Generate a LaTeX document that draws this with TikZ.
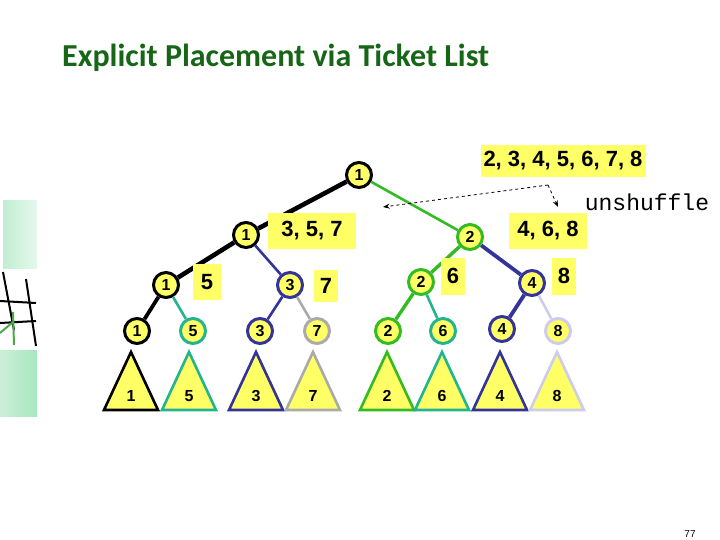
\documentclass[tikz,border=0pt]{standalone}
\usepackage{fontspec}
\setmainfont{Liberation Sans}
\setmonofont{Liberation Mono}
\newfontfamily\titlefont{Carlito}
\usetikzlibrary{arrows.meta}
\definecolor{tktyellow}{HTML}{FFFF66}
\definecolor{tktgreen}{HTML}{33BB22}
\definecolor{tktnavy}{HTML}{333399}
\definecolor{tktteal}{HTML}{22B48E}
\definecolor{tktgray}{HTML}{AAAAAA}
\definecolor{tktlav}{HTML}{CCCCEE}
\definecolor{titlegreen}{HTML}{176617}
\definecolor{sidegreen}{HTML}{A8E6BE}
\tikzset{
  tkt/.style={circle, draw, fill=tktyellow, line width=3pt, minimum size=25pt,
    inner sep=0pt, font=\bfseries\fontsize{16}{16}\selectfont},
  lst/.style={fill=tktyellow, minimum height=35pt, inner xsep=6pt,
    font=\bfseries\fontsize{22}{22}\selectfont},
  lnk/.style={line width=2.6pt},
  fat/.style={line width=4.6pt},
  tri/.style={fill=tktyellow, line width=2.6pt, line join=miter},
}
\begin{document}
\begin{tikzpicture}[x=1pt, y=-1pt, >=Stealth]
  \useasboundingbox (0,0) rectangle (720,540);
  % title and page number
  \node[anchor=base west, inner sep=0pt, text=titlegreen,
        font=\titlefont\bfseries\fontsize{32}{32}\selectfont]
       (title) at (62,67) {Explicit Placement via Ticket List};
  \node[font=\fontsize{10}{10}\selectfont] (page) at (690,534) {77};
  % side decoration
  \shade[left color=sidegreen!70, right color=sidegreen!30] (3,201) rectangle (37,268);
  \shade[left color=sidegreen!60, right color=sidegreen] (0,350) rectangle (37,416);
  \draw[line width=2pt] (0,301) -- (36,303);
  \draw[line width=2pt] (0,323) -- (36,321);
  \draw[line width=2pt] (3,272) -- (14,330);
  \draw[line width=2pt] (26,279) -- (36,346);
  \draw[line width=2pt, green!50!black!70] (13,312) -- (14,345);
  \draw[line width=2pt, green!50!black!70] (13,322) -- (0,333);

  % the tree of tickets
  \node[tkt] (r) at (359,175) {1};
  \node[tkt] (a) at (246,235) {1};
  \node[tkt, draw=tktgreen] (b) at (470,237) {2};
  \node[tkt] (c1) at (166,285) {1};
  \node[tkt, draw=tktnavy] (c3) at (290,285) {3};
  \node[tkt, draw=tktgreen] (c2) at (421,282) {2};
  \node[tkt, draw=tktnavy] (c4) at (532,283) {4};
  \node[tkt] (l1) at (137,331) {1};
  \node[tkt, draw=tktteal] (l5) at (193,331) {5};
  \node[tkt, draw=tktnavy] (l3) at (260,331) {3};
  \node[tkt, draw=tktgray] (l7) at (317,331) {7};
  \node[tkt, draw=tktgreen] (l2) at (388,331) {2};
  \node[tkt, draw=tktteal] (l6) at (443,331) {6};
  \node[tkt, draw=tktnavy] (l4) at (502,329) {4};
  \node[tkt, draw=tktlav] (l8) at (558,331) {8};

  \draw[fat] (r) -- (a);
  \draw[lnk, tktgreen] (r) -- (b);
  \draw[fat] (a) -- (c1);
  \draw[lnk, tktnavy] (a) -- (c3);
  \draw[lnk, line width=3.4pt, tktgreen] (b) -- (c2);
  \draw[fat, line width=3.8pt, tktnavy] (b) -- (c4);
  \draw[fat, line width=3.8pt] (c1) -- (l1);
  \draw[lnk, tktteal] (c1) -- (l5);
  \draw[lnk, tktnavy] (c3) -- (l3);
  \draw[lnk, tktgray] (c3) -- (l7);
  \draw[lnk, line width=3.4pt, tktgreen] (c2) -- (l2);
  \draw[lnk, tktteal] (c2) -- (l6);
  \draw[fat, line width=3.8pt, tktnavy] (c4) -- (l4);
  \draw[lnk, tktlav] (c4) -- (l8);

  % subtrees
  \foreach \x/\c/\t in {131/black/1, 189/tktteal/5, 256/tktnavy/3, 313/tktgray/7,
                        387/tktgreen/2, 442/tktteal/6, 500/tktnavy/4, 557/tktlav/8} {
    \draw[tri, draw=\c] (\x,352) -- (\x+27,410) -- (\x-27,410) -- cycle;
    \node[font=\bfseries\fontsize{16}{16}\selectfont] (t\t) at (\x,396) {\t};
  }

  % ticket lists
  \node[lst, minimum height=32pt, inner xsep=3pt] (all) at (563,161) {2, 3, 4, 5, 6, 7, 8};
  \node[lst, inner xsep=13pt] (odd) at (312,231) {3, 5, 7};
  \node[lst, inner xsep=8pt] (even) at (548,231) {4, 6, 8};
  \node[lst, minimum height=36pt, inner xsep=8pt] (k5) at (207,282) {5};
  \node[lst, minimum height=32pt, inner xsep=6pt] (k7) at (326,286) {7};
  \node[lst, minimum height=37pt, inner xsep=6pt] (k6) at (453,276) {6};
  \node[lst, minimum height=37pt, inner xsep=6pt] (k8) at (564,276) {8};

  % unshuffle
  \node[font=\ttfamily\fontsize{23}{23}\selectfont] (unsh) at (647,202) {unshuffle};
  \coordinate (fork) at (548,185);
  \coordinate (toodd) at (383,207);
  \coordinate (toeven) at (558,207);
  \draw[dashed, thick, ->] (fork) -- (toodd);
  \draw[dashed, thick, ->] (fork) -- (toeven);
\end{tikzpicture}
\end{document}
